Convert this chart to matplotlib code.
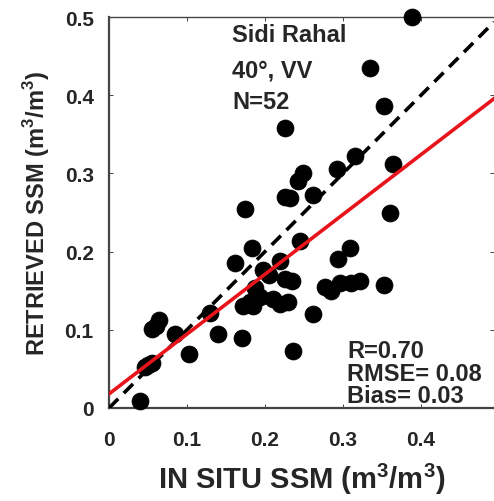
import matplotlib
matplotlib.use('Agg')
import matplotlib.pyplot as plt
import numpy as np

TEXT = '#262626'
RED = '#E8141B'

# in situ vs retrieved SSM (m3/m3)
in_situ = [0.040, 0.046, 0.050, 0.055, 0.055, 0.060, 0.064, 0.085, 0.103, 0.130,
           0.140, 0.171, 0.172, 0.181, 0.185, 0.187, 0.194, 0.210, 0.219, 0.229,
           0.236, 0.262, 0.234, 0.225, 0.277, 0.285, 0.296, 0.310, 0.322, 0.352,
           0.197, 0.205, 0.219, 0.162, 0.183, 0.245, 0.294, 0.309, 0.174, 0.226,
           0.232, 0.225, 0.242, 0.249, 0.262, 0.292, 0.315, 0.364, 0.360, 0.352,
           0.335, 0.388]
retrieved = [0.009, 0.052, 0.055, 0.058, 0.101, 0.105, 0.112, 0.095, 0.069, 0.121,
             0.095, 0.090, 0.131, 0.136, 0.130, 0.153, 0.142, 0.140, 0.133, 0.136,
             0.073, 0.120, 0.163, 0.165, 0.155, 0.150, 0.160, 0.160, 0.163, 0.157,
             0.176, 0.170, 0.188, 0.185, 0.204, 0.213, 0.191, 0.204, 0.254, 0.358,
             0.268, 0.270, 0.290, 0.300, 0.272, 0.305, 0.322, 0.312, 0.250, 0.386,
             0.435, 0.500]

fit_slope, fit_intercept = 0.765, 0.018
site_lines = ['Sidi Rahal', '40°, VV', 'N=52']
stat_lines = ['R=0.70', 'RMSE= 0.08', 'Bias= 0.03']

plt.rcParams['font.family'] = ['Liberation Sans', 'DejaVu Sans']
plt.rcParams['mathtext.fontset'] = 'custom'
plt.rcParams['mathtext.rm'] = 'Liberation Sans'
plt.rcParams['mathtext.bf'] = 'Liberation Sans:bold'

fig = plt.figure(figsize=(4.94, 5.02), dpi=100)
ax = fig.add_axes([109 / 494, 93 / 502, 1 - 109 / 494, 391 / 502])

xmax = (494 - 109) / 780
ax.set_xlim(0, xmax)
ax.set_ylim(0, 0.5)

ax.scatter(in_situ, retrieved, s=150, color='black', edgecolors='black',
           linewidths=0.5, zorder=3, clip_on=False)

xx = np.array([0, xmax])
ax.plot(xx, xx, color='black', linestyle=(0, (3.6, 2.2)), linewidth=2.6, zorder=4)
ax.plot(xx, fit_intercept + fit_slope * xx, color=RED, linewidth=2.6, zorder=5)

ax.set_xticks([0, 0.1, 0.2, 0.3, 0.4])
ax.set_xticklabels(['0', '0.1', '0.2', '0.3', '0.4'])
ax.set_yticks([0, 0.1, 0.2, 0.3, 0.4, 0.5])
ax.set_yticklabels(['0', '0.1', '0.2', '0.3', '0.4', '0.5'])
ax.tick_params(direction='in', length=3, width=0.6, top=True, right=True,
               labelsize=15, colors=TEXT)
ax.tick_params(axis='x', pad=16)
ax.tick_params(axis='y', pad=11)
for lab in ax.get_xticklabels() + ax.get_yticklabels():
    lab.set_fontweight('bold')

ax.set_xlabel(r'IN SITU SSM (m$^{\mathbf{3}}$/m$^{\mathbf{3}}$)', fontsize=21,
              fontweight='bold', color=TEXT, labelpad=8)
ax.set_ylabel(r'RETRIEVED SSM (m$^{\mathbf{3}}$/m$^{\mathbf{3}}$)', fontsize=17,
              fontweight='bold', color=TEXT, labelpad=9)

for side in ['left', 'bottom']:
    ax.spines[side].set_linewidth(1.6)
    ax.spines[side].set_color('#444444')
ax.spines['top'].set_linewidth(1.0)
ax.spines['top'].set_color('#444444')
ax.spines['right'].set_visible(False)

for txt, yy in zip(site_lines, [0.478, 0.432, 0.392]):
    ax.text(0.158, yy, txt, fontsize=17, fontweight='bold', color=TEXT,
            ha='left', va='center', zorder=6)
for txt, yy in zip(stat_lines, [0.074, 0.044, 0.016]):
    ax.text(0.305, yy, txt, fontsize=17, fontweight='bold', color=TEXT,
            ha='left', va='center', zorder=6)

fig.savefig('out.png', dpi=100, facecolor='white')
